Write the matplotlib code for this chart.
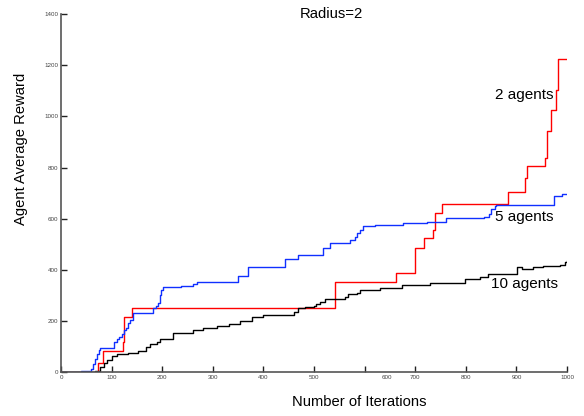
import matplotlib
matplotlib.use("Agg")
import matplotlib.pyplot as plt

plt.rcParams['font.family'] = ['Liberation Sans', 'DejaVu Sans']

# 2 agents (red) -- step data, value holds from x onward
x2 = [0, 74, 82, 122, 125, 140, 541, 662, 700, 717, 735, 740, 752, 883, 917, 920,
      957, 960, 968, 978, 983, 1000]
y2 = [0, 34, 82, 119, 216, 251, 353, 388, 486, 523, 555, 623, 657, 705, 757, 806,
      839, 942, 1025, 1103, 1223, 1223]

# 5 agents (blue)
x5 = [0, 40, 59, 63, 67, 71, 75, 78, 82, 105, 110, 115, 120, 124, 128, 132, 136, 142,
      182, 187, 192, 196, 198, 202, 238, 261, 268, 350, 370, 443, 468, 518, 532, 571,
      580, 585, 590, 597, 620, 676, 723, 760, 835, 845, 850, 857, 860, 975, 990, 1000]
y5 = [0, 3, 10, 30, 50, 70, 85, 92, 95, 119, 130, 138, 150, 164, 171, 190, 203, 229,
      249, 260, 268, 300, 321, 334, 337, 343, 351, 375, 412, 442, 459, 486, 503, 516,
      529, 542, 555, 571, 575, 581, 588, 601, 607, 620, 636, 649, 653, 688, 696, 696]

# 10 agents (black)
x10 = [0, 61, 67, 77, 84, 90, 100, 110, 133, 152, 168, 176, 189, 196, 222, 261, 281,
       308, 331, 354, 377, 400, 460, 468, 482, 499, 504, 512, 522, 561, 568, 584, 591,
       630, 673, 729, 798, 828, 844, 901, 910, 933, 953, 986, 996, 1000]
y10 = [0, 0, 5, 21, 34, 47, 63, 70, 76, 83, 99, 110, 119, 128, 151, 164, 171,
       180, 188, 201, 216, 221, 236, 249, 253, 258, 266, 275, 284, 295, 304, 310, 321,
       330, 340, 349, 362, 370, 385, 410, 404, 409, 415, 418, 431, 433]

xticks = list(range(0, 1001, 100))
xtick_labels = ['0', '100', '200', '300', '400', '500', '', '700', '800', '900', '1000']
yticks = list(range(0, 1401, 200))

fig = plt.figure(figsize=(5.84, 4.16), dpi=100)
ax = fig.add_axes([0.1045, 0.1058, 0.8665, 0.8602])

ax.plot(x2, y2, drawstyle='steps-post', color='#ff0000', lw=1.0)
ax.plot(x5, y5, drawstyle='steps-post', color='#1030ff', lw=1.0)
ax.plot(x10, y10, drawstyle='steps-post', color='black', lw=1.0)

ax.set_xlim(0, 1000)
ax.set_ylim(0, 1400)
ax.set_xticks(xticks)
ax.set_xticklabels(xtick_labels)
ax.set_yticks(yticks)
# misplaced "600" label as in the original figure
ax.text(643, -12, '600', ha='center', va='top', fontsize=4.5, color='#444444')

for s in ['top', 'right']:
    ax.spines[s].set_visible(False)
for s in ['left', 'bottom']:
    ax.spines[s].set_color('#555555')
    ax.spines[s].set_linewidth(1.2)
ax.tick_params(direction='in', length=4, width=1, colors='#222222',
               labelsize=4.5, labelcolor='#444444', pad=2)

# axis labels sit off-centre in the original
ax.set_xlabel('Number of Iterations', fontsize=10.6)
ax.xaxis.set_label_coords(0.589, -0.064)
ax.set_ylabel('Agent Average Reward', fontsize=10.6)
ax.yaxis.set_label_coords(-0.066, 0.624)

ax.text(0.535, 1.0, 'Radius=2', transform=ax.transAxes, ha='center', va='center',
        fontsize=10.7)
ax.text(915, 1083, '2 agents', ha='center', va='center', fontsize=11)
ax.text(915, 605, '5 agents', ha='center', va='center', fontsize=11)
ax.text(915, 345, '10 agents', ha='center', va='center', fontsize=11)

fig.savefig('out.png', dpi=100)
